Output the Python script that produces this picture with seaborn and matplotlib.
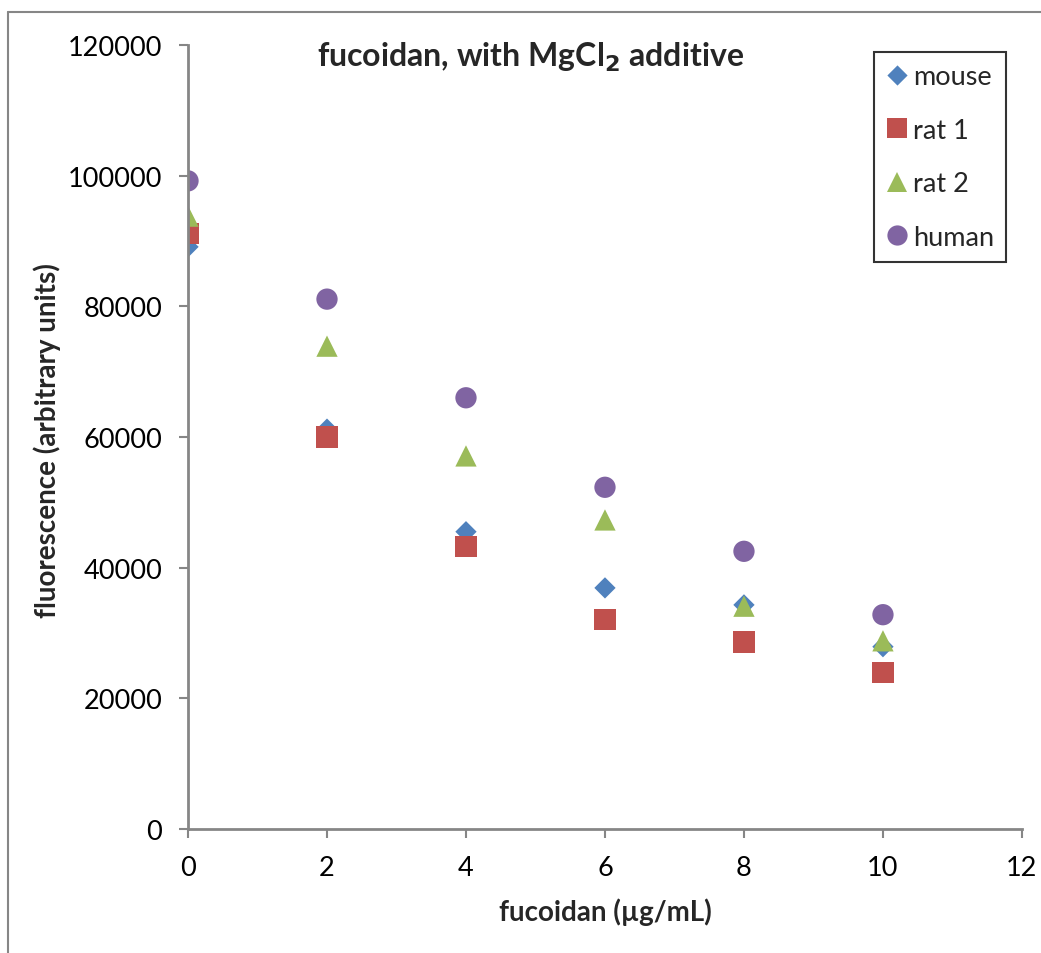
import numpy as np
import pandas as pd
import matplotlib
matplotlib.use("Agg")
import matplotlib.pyplot as plt
import seaborn as sns
from matplotlib.lines import Line2D
from matplotlib.path import Path

# values
conc = [0, 2, 4, 6, 8, 10]
mouse = [89100, 61200, 45500, 36900, 34300, 27900]
rat_1 = [91100, 60000, 43200, 32100, 28600, 24000]
rat_2 = [93800, 73900, 57100, 47300, 34100, 28800]
human = [99200, 81100, 66000, 52300, 42500, 32800]

series_names = ["mouse", "rat 1", "rat 2", "human"]
colors = {"mouse": "#4F81BD", "rat 1": "#C0504D", "rat 2": "#9BBB59", "human": "#8064A2"}

# diamond as a path so it is as wide as the other markers
diamond = Path([(0, 1), (1, 0), (0, -1), (-1, 0), (0, 1)],
               [Path.MOVETO, Path.LINETO, Path.LINETO, Path.LINETO, Path.CLOSEPOLY])
markers = {"mouse": diamond, "rat 1": "s", "rat 2": "^", "human": "o"}

df = pd.DataFrame({
    "conc": conc * 4,
    "fluor": mouse + rat_1 + rat_2 + human,
    "series": [s for s in series_names for _ in conc],
})

sns.set_style("white")
plt.rcParams["font.family"] = ["Lato", "DejaVu Sans"]

fig = plt.figure(figsize=(10.41, 9.54), dpi=100)
ax = fig.add_axes([0.1806, 0.1300, 0.8011, 0.8218])

sns.scatterplot(data=df, x="conc", y="fluor", hue="series", style="series",
                palette=colors, markers=markers, hue_order=series_names,
                style_order=series_names, s=235, linewidth=0, ax=ax)

axis_grey = "#868686"
ax.set_xlim(0, 12)
ax.set_ylim(0, 120000)
ax.set_xticks(range(0, 13, 2))
ax.set_yticks(range(0, 120001, 20000))
for side in ["top", "right"]:
    ax.spines[side].set_visible(False)
for side in ["left", "bottom"]:
    ax.spines[side].set_color(axis_grey)
    ax.spines[side].set_linewidth(2)
ax.tick_params(axis="both", direction="out", length=6.5, width=1.5, color=axis_grey,
               labelsize=19.5, labelcolor="black", pad=12, left=True, bottom=True)

ax.set_xlabel("fucoidan (µg/mL)", fontsize=20, fontweight="bold", va="center")
ax.xaxis.set_label_coords(0.501, -0.105)
ax.set_ylabel("fluorescence (arbitrary units)", fontsize=20, fontweight="bold", va="center")
ax.yaxis.set_label_coords(-0.169, 0.497)
ax.text(0.411, 0.986, "fucoidan, with MgCl$_\\mathbf{2}$ additive", transform=ax.transAxes,
        fontsize=23, fontweight="bold", ha="center", va="center")

leg = ax.legend(loc="upper right", bbox_to_anchor=(0.981, 0.991), borderaxespad=0,
                frameon=True, fancybox=False, fontsize=19.5, labelspacing=1.05,
                handletextpad=0.2, borderpad=0.45, handlelength=0.8, markerscale=0.95)
leg.get_frame().set_edgecolor("black")
leg.get_frame().set_linewidth(1.5)

# outer chart-area border (left and top edges visible in the reference)
fig.add_artist(Line2D([0.0077, 0.0077], [0.0, 0.9864], transform=fig.transFigure,
                      color=axis_grey, linewidth=1.5))
fig.add_artist(Line2D([0.0077, 1.0], [0.9864, 0.9864], transform=fig.transFigure,
                      color=axis_grey, linewidth=1.5))

fig.savefig("out.png", dpi=100)
